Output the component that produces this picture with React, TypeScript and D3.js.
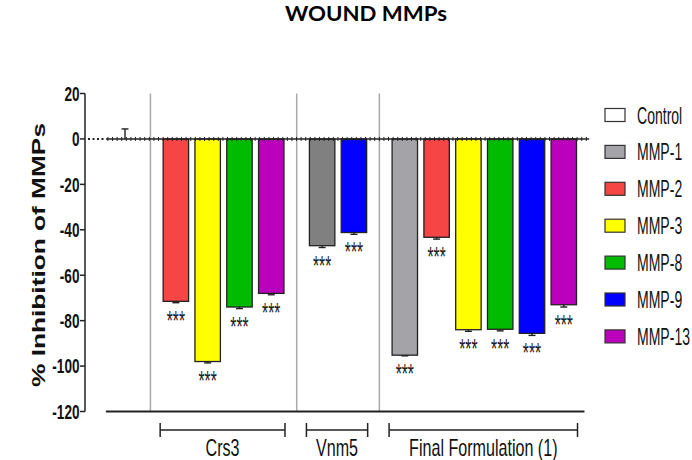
import React from "react";
import * as d3 from "d3";

const TITLE = "WOUND MMPs";
const Y_LABEL = "% Inhibition of MMPs";
const Y_TICKS = [20, 0, -20, -40, -60, -80, -100, -120];

const LEGEND_LABELS = ["Control", "MMP-1", "MMP-2", "MMP-3", "MMP-8", "MMP-9", "MMP-13"];
const LEGEND_COLORS = ["#ffffff", "#a3a3a8", "#f54545", "#ffff00", "#00bb00", "#0000ff", "#bb00bb"];

const GROUPS = ["", "Crs3", "Vnm5", "Final Formulation (1)"];
const CONTROL_SERIES = ["Control"];
const CONTROL_VALUES = [0];
const CONTROL_ERR = [4.4];
const CRS3_SERIES = ["MMP-2", "MMP-3", "MMP-8", "MMP-13"];
const CRS3_VALUES = [-71.5, -98, -74, -68];
const CRS3_ERR = [0.6, 0.6, 0.7, 0.6];
const VNM5_SERIES = ["MMP-1", "MMP-9"];
const VNM5_VALUES = [-47, -41.2];
const VNM5_ERR = [0.8, 0.8];
const VNM5_COLORS = ["#808080", "#0000ff"];
const FINAL_SERIES = ["MMP-1", "MMP-2", "MMP-3", "MMP-8", "MMP-9", "MMP-13"];
const FINAL_VALUES = [-95.2, -43.3, -84, -83.8, -85.6, -73];
const FINAL_ERR = [0.3, 0.8, 0.7, 0.7, 0.9, 1.0];
const STARS = "***";

const FONT = "'Liberation Sans', Arial, sans-serif";

type Bar = { group: number; series: string; value: number; err: number; color: string; slot: number };

function CText(props: {
  x: number; y: number; sx?: number; size: number; anchor?: string; weight?: string | number;
  children: React.ReactNode; fill?: string; family?: string;
}) {
  const { x, y, sx = 1, size, anchor = "start", weight = "normal", children, fill = "#111", family = FONT } = props;
  return (
    <text
      transform={`translate(${x},${y}) scale(${sx},1)`}
      fontSize={size}
      fontFamily={family}
      fontWeight={weight}
      textAnchor={anchor}
      fill={fill}
    >
      {children}
    </text>
  );
}

export default function App() {
  const W = 692, H = 460;
  const colorOf = (s: string) => LEGEND_COLORS[LEGEND_LABELS.indexOf(s)];

  const groupData: { series: string[]; values: number[]; err: number[]; colors: string[] }[] = [
    { series: CONTROL_SERIES, values: CONTROL_VALUES, err: CONTROL_ERR, colors: CONTROL_SERIES.map(colorOf) },
    { series: CRS3_SERIES, values: CRS3_VALUES, err: CRS3_ERR, colors: CRS3_SERIES.map(colorOf) },
    { series: VNM5_SERIES, values: VNM5_VALUES, err: VNM5_ERR, colors: VNM5_COLORS },
    { series: FINAL_SERIES, values: FINAL_VALUES, err: FINAL_ERR, colors: FINAL_SERIES.map(colorOf) },
  ];

  const GAP = 0.6;
  const bars: Bar[] = [];
  const groupRanges: [number, number][] = [];
  let pos = 0;
  groupData.forEach((g, gi) => {
    if (gi > 0) pos += GAP;
    const start = pos;
    g.series.forEach((s, i) => {
      bars.push({ group: gi, series: s, value: g.values[i], err: g.err[i], color: g.colors[i], slot: pos });
      pos += 1;
    });
    groupRanges.push([start, pos - 1]);
  });

  const x = d3.scaleLinear().domain([0, 13.8]).range([125, 563.8]);
  const slotW = x(1) - x(0);
  const barW = slotW * 0.8;
  const y = d3.scaleLinear().domain([-120, 20]).range([411.5, 93.5]);

  const axisX = 85;
  const separators = groupRanges.slice(1).map((r, i) => (groupRanges[i][1] + r[0]) / 2);
  const zeroStart = x(-0.6);
  const zeroEnd = x(14.6);
  const zeroTicks = d3.range(zeroStart + 2, zeroEnd, 4.6);

  const legendY0 = 115.5;
  const legendStep = 36.9;

  return (
    <svg width={W} height={H} style={{ position: "absolute", left: 0, top: 0, background: "#fff" }}>
      <rect width={W} height={H} fill="#fff" />
      {/* title */}
      <text x={285} y={21} fontFamily="Lato, 'Open Sans', sans-serif" fontWeight="bold" fontSize={20.5}
        textLength={162} lengthAdjust="spacingAndGlyphs" fill="#000">{TITLE}</text>

      {/* y label */}
      <text transform={`translate(45,255) rotate(-90)`} textAnchor="middle" fontFamily={FONT}
        fontWeight="bold" fontSize={18.5} textLength={264} lengthAdjust="spacingAndGlyphs" fill="#111">{Y_LABEL}</text>

      {/* separators */}
      {separators.map((s, i) => (
        <line key={i} x1={x(s)} x2={x(s)} y1={y(20)} y2={y(-120)} stroke="#aaaaaa" strokeWidth={1.5} />
      ))}

      {/* y axis */}
      <line x1={axisX} x2={axisX} y1={y(20)} y2={y(-120)} stroke="#222" strokeWidth={1.5} />
      {Y_TICKS.map((t) => (
        <g key={t}>
          <line x1={axisX - 5} x2={axisX} y1={y(t)} y2={y(t)} stroke="#222" strokeWidth={1.5} />
          <CText x={79.5} y={y(t) + 7.3} sx={0.68} size={20} weight="bold" anchor="end">{t}</CText>
        </g>
      ))}

      {/* baseline */}
      <line x1={x(-0.6)} x2={x(14.45)} y1={y(-120)} y2={y(-120)} stroke="#222" strokeWidth={2} />

      {/* bars */}
      {bars.map((b, i) =>
        b.group === 0 ? null : (
          <rect key={i} x={x(b.slot) - barW / 2} y={y(0)} width={barW} height={y(b.value) - y(0)}
            fill={b.color} stroke="#222" strokeWidth={1.3} />
        )
      )}

      {/* error bars */}
      {bars.map((b, i) => {
        const cx = x(b.slot);
        const end = b.value < 0 ? b.value - b.err : b.value + b.err;
        return (
          <g key={i} stroke="#222" strokeWidth={1.4}>
            <line x1={cx} x2={cx} y1={y(b.value)} y2={y(end)} />
            <line x1={cx - 3.5} x2={cx + 3.5} y1={y(end)} y2={y(end)} />
          </g>
        );
      })}

      {/* zero line */}
      <line x1={88} x2={zeroStart} y1={y(0)} y2={y(0)} stroke="#222" strokeWidth={2} strokeDasharray="2,2.5" />
      <line x1={zeroStart} x2={zeroEnd} y1={y(0)} y2={y(0)} stroke="#222" strokeWidth={1.5} />
      {zeroTicks.map((t, i) => (
        <line key={i} x1={t} x2={t} y1={y(0) - 2} y2={y(0) + 2} stroke="#222" strokeWidth={1} />
      ))}

      {/* stars */}
      {bars.map((b, i) =>
        b.group === 0 ? null : (
          <CText key={i} x={x(b.slot)} y={y(b.value - b.err) + 27} sx={0.56} size={28} anchor="middle" fill="#222">
            {STARS}
          </CText>
        )
      )}

      {/* group brackets */}
      {groupRanges.map((r, gi) => {
        if (gi === 0) return null;
        const x1 = x(r[0]) - barW / 2 - 3;
        const x2 = x(r[1]) + barW / 2 + 1;
        return (
          <g key={gi}>
            <line x1={x1} x2={x2} y1={430} y2={430} stroke="#222" strokeWidth={1.5} />
            <line x1={x1} x2={x1} y1={423} y2={437} stroke="#222" strokeWidth={1.5} />
            <line x1={x2} x2={x2} y1={423} y2={437} stroke="#222" strokeWidth={1.5} />
            <CText x={(x1 + x2) / 2} y={455.5} sx={0.7} size={23} anchor="middle">{GROUPS[gi]}</CText>
          </g>
        );
      })}

      {/* legend */}
      {LEGEND_LABELS.map((l, i) => {
        const cy = legendY0 + i * legendStep;
        return (
          <g key={l}>
            <rect x={605} y={cy - 7} width={20} height={13} fill={LEGEND_COLORS[i]} stroke="#333" strokeWidth={1.2} />
            <CText x={637} y={cy + 8} sx={0.61} size={23}>{l}</CText>
          </g>
        );
      })}
    </svg>
  );
}
